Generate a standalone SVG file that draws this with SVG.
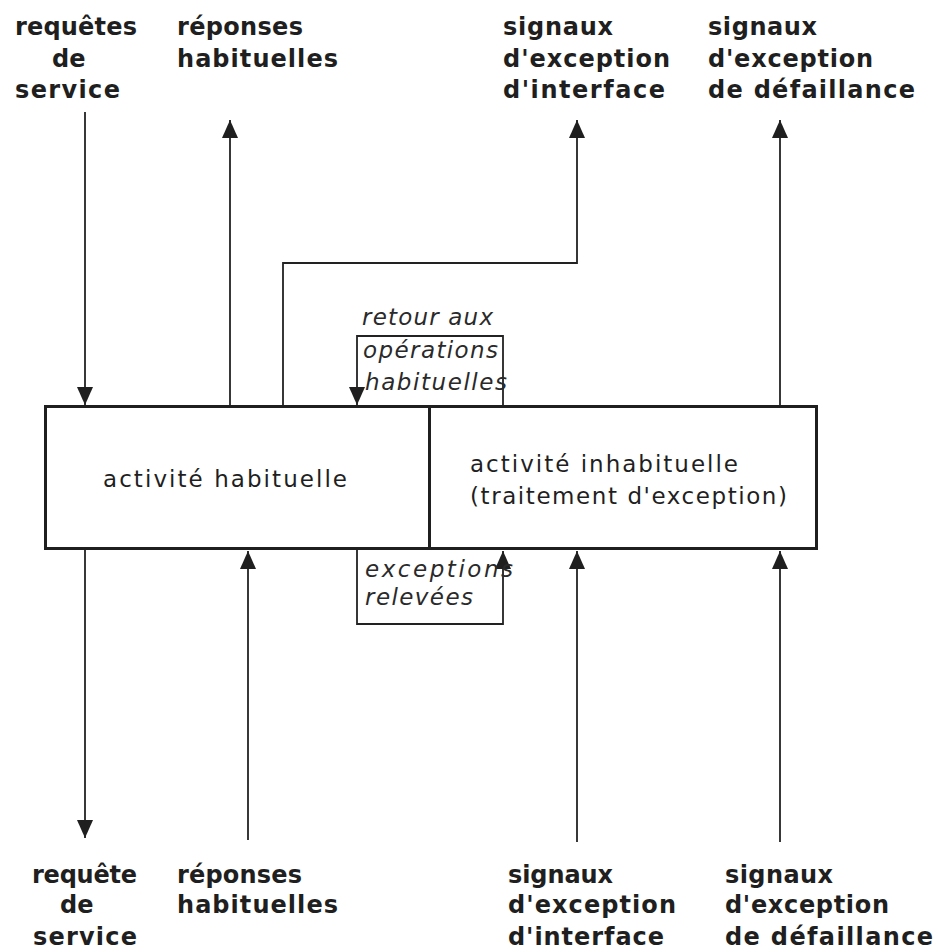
<svg xmlns="http://www.w3.org/2000/svg" width="938" height="952" viewBox="0 0 938 952">
  <style>
    .lbl { font-family: "DejaVu Sans", "Liberation Sans", sans-serif; font-weight: bold; font-size: 24px; fill: #1f1f1f; }
    .box-text { font-family: "DejaVu Sans", "Liberation Sans", sans-serif; font-size: 23px; fill: #1f1f1f; }
    .ital { font-family: "DejaVu Sans", "Liberation Sans", sans-serif; font-style: oblique; font-size: 23px; fill: #2a2a2a; }
    .box { fill: #ffffff; stroke: #1f1f1f; stroke-width: 3; }
    .conn { fill: none; stroke: #222222; stroke-width: 1.8; }
  </style>
  <defs>
    <marker id="arrow" viewBox="0 0 18 16" refX="18" refY="8" markerWidth="18" markerHeight="16" markerUnits="userSpaceOnUse" orient="auto">
      <path d="M0,0 L18,8 L0,16 z" fill="#1f1f1f"/>
    </marker>
  </defs>

  <rect width="938" height="952" fill="#ffffff"/>

  <!-- activity boxes -->
  <g id="activite-habituelle">
    <rect class="box" x="45.5" y="406.5" width="384" height="142"/>
    <text class="box-text" x="103" y="487" textLength="244" lengthAdjust="spacing">activité habituelle</text>
  </g>
  <g id="activite-inhabituelle">
    <rect class="box" x="429.5" y="406.5" width="387" height="142"/>
    <text class="box-text" x="470" y="472" textLength="268" lengthAdjust="spacing">activité inhabituelle</text>
    <text class="box-text" x="470" y="504" textLength="317" lengthAdjust="spacing">(traitement d'exception)</text>
  </g>

  <!-- connectors -->
  <g id="connectors">
    <path class="conn" d="M85,112 V405" marker-end="url(#arrow)"/>
    <path class="conn" d="M230,405 V120" marker-end="url(#arrow)"/>
    <path class="conn" d="M283,405 V263 H577 V120" marker-end="url(#arrow)"/>
    <path class="conn" d="M503,405 V336 H357 V405" marker-end="url(#arrow)"/>
    <path class="conn" d="M780,405 V120" marker-end="url(#arrow)"/>
    <path class="conn" d="M85,550 V838" marker-end="url(#arrow)"/>
    <path class="conn" d="M248,840 V551" marker-end="url(#arrow)"/>
    <path class="conn" d="M357,550 V624 H503 V551" marker-end="url(#arrow)"/>
    <path class="conn" d="M577,842 V551" marker-end="url(#arrow)"/>
    <path class="conn" d="M780,842 V551" marker-end="url(#arrow)"/>
  </g>

  <!-- connector labels inside the loops -->
  <g id="retour-label">
    <text class="ital" x="362" y="325" textLength="131" lengthAdjust="spacing">retour aux</text>
    <text class="ital" x="363" y="358" textLength="135" lengthAdjust="spacing">opérations</text>
    <text class="ital" x="365" y="390" textLength="142" lengthAdjust="spacing">habituelles</text>
  </g>
  <g id="exceptions-label">
    <text class="ital" x="365" y="577" textLength="148" lengthAdjust="spacing">exceptions</text>
    <text class="ital" x="365" y="605" textLength="108" lengthAdjust="spacing">relevées</text>
  </g>

  <!-- top labels -->
  <g id="top-requetes">
    <text class="lbl" x="15" y="35" textLength="122" lengthAdjust="spacing">requêtes</text>
    <text class="lbl" x="52" y="67">de</text>
    <text class="lbl" x="15" y="98" textLength="105" lengthAdjust="spacing">service</text>
  </g>
  <g id="top-reponses">
    <text class="lbl" x="177" y="35" textLength="126" lengthAdjust="spacing">réponses</text>
    <text class="lbl" x="177" y="67" textLength="161" lengthAdjust="spacing">habituelles</text>
  </g>
  <g id="top-interface">
    <text class="lbl" x="503" y="35" textLength="110" lengthAdjust="spacing">signaux</text>
    <text class="lbl" x="503" y="67" textLength="167" lengthAdjust="spacing">d'exception</text>
    <text class="lbl" x="503" y="98" textLength="162" lengthAdjust="spacing">d'interface</text>
  </g>
  <g id="top-defaillance">
    <text class="lbl" x="708" y="35" textLength="109" lengthAdjust="spacing">signaux</text>
    <text class="lbl" x="708" y="67" textLength="165" lengthAdjust="spacing">d'exception</text>
    <text class="lbl" x="708" y="98" textLength="207" lengthAdjust="spacing">de défaillance</text>
  </g>

  <!-- bottom labels -->
  <g id="bottom-requete">
    <text class="lbl" x="32" y="883" textLength="105" lengthAdjust="spacing">requête</text>
    <text class="lbl" x="60" y="913">de</text>
    <text class="lbl" x="33" y="945" textLength="104" lengthAdjust="spacing">service</text>
  </g>
  <g id="bottom-reponses">
    <text class="lbl" x="177" y="883" textLength="125" lengthAdjust="spacing">réponses</text>
    <text class="lbl" x="177" y="913" textLength="161" lengthAdjust="spacing">habituelles</text>
  </g>
  <g id="bottom-interface">
    <text class="lbl" x="508" y="883" textLength="105" lengthAdjust="spacing">signaux</text>
    <text class="lbl" x="508" y="913" textLength="168" lengthAdjust="spacing">d'exception</text>
    <text class="lbl" x="508" y="945" textLength="156" lengthAdjust="spacing">d'interface</text>
  </g>
  <g id="bottom-defaillance">
    <text class="lbl" x="725" y="883" textLength="108" lengthAdjust="spacing">signaux</text>
    <text class="lbl" x="725" y="913" textLength="164" lengthAdjust="spacing">d'exception</text>
    <text class="lbl" x="725" y="945" textLength="208" lengthAdjust="spacing">de défaillance</text>
  </g>
</svg>
